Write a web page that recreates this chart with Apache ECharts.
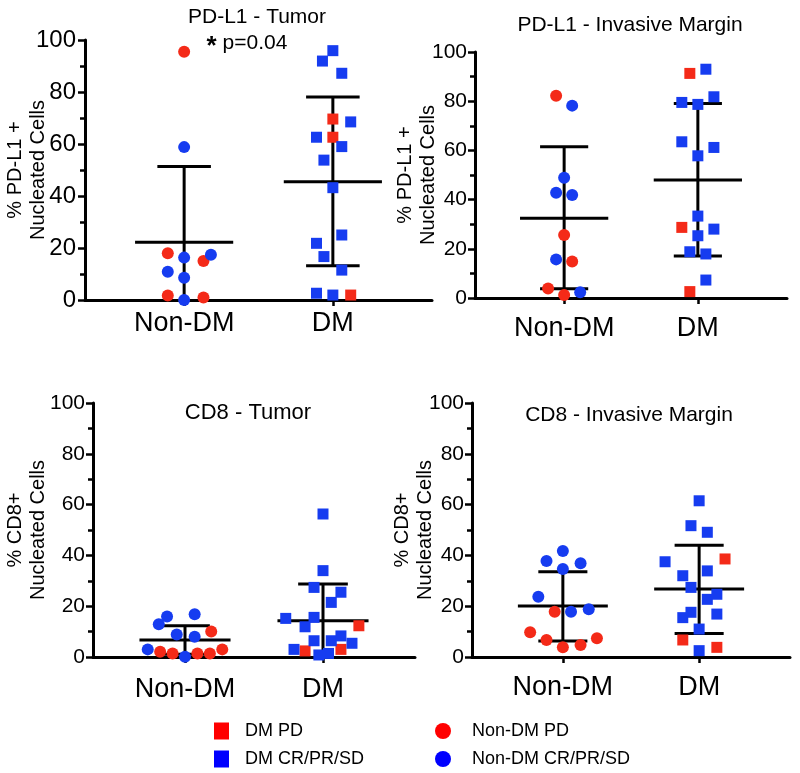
<!DOCTYPE html>
<html>
<head>
<meta charset="utf-8">
<script src="https://cdn.jsdelivr.net/npm/echarts@6/dist/echarts.min.js"></script>
<style>
  html, body { margin: 0; padding: 0; background: #fff; }
  #chart { width: 800px; height: 773px; }
</style>
</head>
<body>
<div id="chart"></div>
<script>
// group positions on the x axis: 1 = Non-DM, 2 = DM
const groupNames = ['Non-DM', 'DM'];
const yTicks = [0, 20, 40, 60, 80, 100];

// PD-L1 - Tumor
const p1NonVals = [95.5, 58.8, 18, 16.3, 17.4, 15, 10.9, 8.6, 1.7, 1, 0];
const p1NonJit = [0, 0, -0.11, 0, 0.18, 0.13, -0.11, 0, -0.11, 0.13, 0];
const p1NonPD = [1, 0, 1, 0, 0, 1, 0, 0, 1, 1, 0];
const p1DmVals = [91.9, 95.9, 87.2, 69.6, 68.5, 62.6, 62.6, 59, 53.8, 43.2, 25, 21.8, 16.7, 11.5, 2.6, 1.9, 1.9];
const p1DmJit = [-0.07, 0, 0.06, 0, 0.12, -0.11, 0, 0.06, -0.06, 0, 0.06, -0.11, -0.06, 0.06, -0.11, 0, 0.12];
const p1DmPD = [0, 0, 0, 1, 0, 0, 1, 0, 0, 0, 0, 0, 0, 0, 0, 0, 1];
const p1Mean = [22.2, 45.5];
const p1Upper = [51.3, 78.1];
const p1Lower = [-6.9, 13.2];

// PD-L1 - Invasive Margin
const p2NonVals = [82.2, 78.2, 48.9, 42.8, 41.9, 25.6, 15.7, 14.8, 3.9, 1.2, 2.3];
const p2NonJit = [-0.06, 0.06, 0, -0.06, 0.06, 0, -0.06, 0.06, -0.12, 0, 0.12];
const p2NonPD = [1, 0, 0, 0, 0, 1, 0, 1, 1, 1, 0];
const p2DmVals = [91.3, 93.0, 79.5, 78.7, 81.8, 63.5, 61.2, 57.8, 33.3, 28.7, 28.0, 25.3, 18.8, 17.9, 7.3, 2.6];
const p2DmJit = [-0.06, 0.06, -0.12, 0, 0.12, -0.12, 0.12, 0, 0, -0.12, 0.12, 0, -0.06, 0.06, 0.06, -0.06];
const p2DmPD = [1, 0, 0, 0, 0, 0, 0, 0, 0, 1, 0, 0, 0, 0, 0, 1];
const p2Mean = [32.4, 48.0];
const p2Upper = [61.5, 79.1];
const p2Lower = [3.8, 17.1];

// CD8 - Tumor
const p3NonVals = [12.9, 15.9, 16.8, 8.9, 8.0, 10.0, 3.0, 2.1, 1.4, 0.1, 1.4, 1.4, 3.0];
const p3NonJit = [-0.19, -0.13, 0.07, -0.06, 0.07, 0.19, -0.27, -0.18, -0.09, 0, 0.09, 0.18, 0.27];
const p3NonPD = [0, 0, 0, 0, 0, 1, 0, 1, 1, 0, 1, 1, 1];
const p3DmVals = [56.3, 34.0, 27.4, 25.5, 21.5, 15.2, 15.6, 11.9, 12.3, 6.4, 6.4, 8.3, 5.4, 3.0, 2.4, 3.0, 0.8, 1.4];
const p3DmJit = [0, 0, -0.065, 0.13, 0.06, -0.27, -0.065, -0.13, 0.26, -0.065, 0.06, 0.13, 0.21, -0.21, -0.13, 0.13, -0.03, 0.04];
const p3DmPD = [0, 0, 0, 0, 0, 0, 0, 0, 1, 0, 0, 0, 0, 0, 1, 1, 0, 0];
const p3Mean = [6.7, 14.3];
const p3Upper = [12.3, 28.7];
const p3Lower = [1.1, -0.1];

// CD8 - Invasive Margin
const p4NonVals = [41.7, 37.8, 36.9, 34.6, 23.7, 17.8, 17.8, 18.8, 9.7, 6.7, 7.4, 3.8, 4.7];
const p4NonJit = [0, -0.12, 0.13, 0, -0.18, -0.06, 0.06, 0.19, -0.24, -0.12, 0.25, 0, 0.13];
const p4NonPD = [0, 0, 0, 0, 0, 1, 0, 0, 1, 1, 1, 1, 1];
const p4DmVals = [61.5, 51.7, 49.1, 37.5, 38.6, 33.9, 32.0, 27.4, 24.7, 22.7, 17.6, 15.5, 16.9, 11.0, 6.7, 3.8, 2.5];
const p4DmJit = [0, -0.06, 0.06, -0.25, 0.19, 0.06, -0.12, -0.06, 0.13, 0.06, -0.06, -0.12, 0.13, 0, -0.12, 0.13, 0];
const p4DmPD = [0, 0, 0, 0, 1, 0, 0, 0, 0, 0, 0, 0, 0, 0, 1, 1, 0];
const p4Mean = [20.1, 26.8];
const p4Upper = [33.6, 44.0];
const p4Lower = [6.3, 9.3];

const FONT = 'Liberation Sans, Arial, Helvetica, sans-serif';
const RED = '#f42a18';
const BLUE = '#163cf0';

const panels = [
  { nonVals: p1NonVals, nonJit: p1NonJit, nonPD: p1NonPD, dmVals: p1DmVals, dmJit: p1DmJit, dmPD: p1DmPD,
    mean: p1Mean, upper: p1Upper, lower: p1Lower, yName: '% PD-L1 +\nNucleated Cells',
    grid: { left: 85, top: 40, width: 347, height: 260 }, tickSize: 24, tickMargin: 9, nameGap: 35, catMargin: 10 },
  { nonVals: p2NonVals, nonJit: p2NonJit, nonPD: p2NonPD, dmVals: p2DmVals, dmJit: p2DmJit, dmPD: p2DmPD,
    mean: p2Mean, upper: p2Upper, lower: p2Lower, yName: '% PD-L1 +\nNucleated Cells',
    grid: { left: 475, top: 52, width: 312, height: 246 }, tickSize: 21, tickMargin: 8, nameGap: 35, catMargin: 17 },
  { nonVals: p3NonVals, nonJit: p3NonJit, nonPD: p3NonPD, dmVals: p3DmVals, dmJit: p3DmJit, dmPD: p3DmPD,
    mean: p3Mean, upper: p3Upper, lower: p3Lower, yName: '% CD8+\nNucleated Cells',
    grid: { left: 93, top: 403, width: 322, height: 254 }, tickSize: 21, tickMargin: 8, nameGap: 43, catMargin: 19 },
  { nonVals: p4NonVals, nonJit: p4NonJit, nonPD: p4NonPD, dmVals: p4DmVals, dmJit: p4DmJit, dmPD: p4DmPD,
    mean: p4Mean, upper: p4Upper, lower: p4Lower, yName: '% CD8+\nNucleated Cells',
    grid: { left: 472, top: 403, width: 318, height: 254 }, tickSize: 21, tickMargin: 8, nameGap: 35, catMargin: 17 }
];

const titles = [
  { text: 'PD-L1 - Tumor', x: 257, y: 17, size: 21 },
  { text: 'PD-L1 - Invasive Margin', x: 630, y: 25, size: 21 },
  { text: 'CD8 - Tumor', x: 248, y: 413, size: 22 },
  { text: 'CD8 - Invasive Margin', x: 629, y: 415, size: 21 }
];

const pick = (vals, jit, flags, group, want) =>
  vals.map((v, i) => [group + jit[i], v, flags[i]]).filter(d => d[2] === want).map(d => [d[0], d[1]]);

const grids = [], xAxes = [], yAxes = [], series = [];

panels.forEach((p, k) => {
  grids.push(Object.assign({ outerBoundsMode: 'none', containLabel: false }, p.grid));
  xAxes.push({
    gridIndex: k, type: 'value', min: 1 / 3, max: 8 / 3,
    splitLine: { show: false },
    axisLine: { lineStyle: { color: '#000', width: 3 } },
    axisTick: { customValues: [1, 2], length: 6, lineStyle: { color: '#000', width: 2.5 } },
    axisLabel: {
      customValues: [1, 2], margin: p.catMargin,
      formatter: v => groupNames[Math.round(v) - 1],
      color: '#000', fontSize: 27, fontFamily: FONT
    }
  });
  yAxes.push({
    gridIndex: k, type: 'value', min: 0, max: 100, interval: 20,
    name: p.yName, nameLocation: 'middle', nameGap: p.nameGap, nameMoveOverlap: false,
    nameTextStyle: { color: '#000', fontSize: 20, lineHeight: 23, fontFamily: FONT },
    splitLine: { show: false },
    axisLine: { show: true, lineStyle: { color: '#000', width: 3 } },
    axisTick: { length: 7, lineStyle: { color: '#000', width: 2.5 } },
    minorTick: { show: true, splitNumber: 2, length: 5, lineStyle: { color: '#000', width: 2.5 } },
    axisLabel: { margin: p.tickMargin, color: '#000', fontSize: p.tickSize, fontFamily: FONT }
  });

  // mean +/- SD bars
  series.push({
    type: 'custom', xAxisIndex: k, yAxisIndex: k, z: 1, silent: true,
    data: [1, 2].map((g, i) => [g, p.mean[i], p.lower[i], p.upper[i]]),
    renderItem: (params, api) => {
      const g = api.value(0), m = api.value(1), lo = api.value(2), hi = api.value(3);
      const seg = (a, b) => ({
        type: 'line',
        shape: { x1: a[0], y1: a[1], x2: b[0], y2: b[1] },
        style: { stroke: '#000', lineWidth: 3 }
      });
      const kids = [
        seg(api.coord([g, Math.max(lo, 0)]), api.coord([g, hi])),
        seg(api.coord([g - 0.33, m]), api.coord([g + 0.33, m])),
        seg(api.coord([g - 0.18, hi]), api.coord([g + 0.18, hi]))
      ];
      if (lo > 0) kids.push(seg(api.coord([g - 0.18, lo]), api.coord([g + 0.18, lo])));
      return { type: 'group', children: kids };
    }
  });

  const pts = [
    { name: 'Non-DM PD', data: pick(p.nonVals, p.nonJit, p.nonPD, 1, 1), symbol: 'circle', size: 12, color: RED },
    { name: 'Non-DM CR/PR/SD', data: pick(p.nonVals, p.nonJit, p.nonPD, 1, 0), symbol: 'circle', size: 12, color: BLUE },
    { name: 'DM PD', data: pick(p.dmVals, p.dmJit, p.dmPD, 2, 1), symbol: 'rect', size: 11, color: RED },
    { name: 'DM CR/PR/SD', data: pick(p.dmVals, p.dmJit, p.dmPD, 2, 0), symbol: 'rect', size: 11, color: BLUE }
  ];
  pts.forEach(s => series.push({
    type: 'scatter', name: s.name, xAxisIndex: k, yAxisIndex: k, z: 3, clip: false,
    symbol: s.symbol, symbolSize: s.size, itemStyle: { color: s.color, opacity: 1 },
    emphasis: { disabled: true }, data: s.data
  }));
});

const legendBase = {
  orient: 'vertical', itemGap: 10, selectedMode: false, padding: 0, height: 50,
  textStyle: { color: '#000', fontSize: 18, fontFamily: FONT }
};

const graphics = titles.map(t => ({
  type: 'text', x: t.x, y: t.y,
  style: { text: t.text, fill: '#000', font: t.size + 'px ' + FONT, textAlign: 'center', textVerticalAlign: 'middle' }
}));
graphics.push({
  type: 'text', x: 247, y: 43,
  style: {
    text: '{a|*} p=0.04', fill: '#000', font: '21px ' + FONT, textAlign: 'center', textVerticalAlign: 'middle',
    rich: { a: { fontSize: 26, fontWeight: 'bold', fontFamily: FONT, fill: '#000', padding: [8, 0, 0, 0] } }
  }
});

const chart = echarts.init(document.getElementById('chart'));
chart.setOption({
  animation: false,
  backgroundColor: '#fff',
  grid: grids,
  xAxis: xAxes,
  yAxis: yAxes,
  legend: [
    Object.assign({}, legendBase, {
      left: 214, top: 722, itemWidth: 15, itemHeight: 17, icon: 'rect',
      textStyle: Object.assign({}, legendBase.textStyle, { padding: [0, 0, 0, 11] }),
      data: [
        { name: 'DM PD', itemStyle: { color: '#ff0000' } },
        { name: 'DM CR/PR/SD', itemStyle: { color: '#0000ff' } }
      ]
    }),
    Object.assign({}, legendBase, {
      left: 435, top: 722, itemWidth: 16, itemHeight: 17, icon: 'circle',
      textStyle: Object.assign({}, legendBase.textStyle, { padding: [0, 0, 0, 16] }),
      data: [
        { name: 'Non-DM PD', itemStyle: { color: '#ff0000' } },
        { name: 'Non-DM CR/PR/SD', itemStyle: { color: '#0000ff' } }
      ]
    })
  ],
  graphic: graphics,
  series: series
});
</script>
</body>
</html>
